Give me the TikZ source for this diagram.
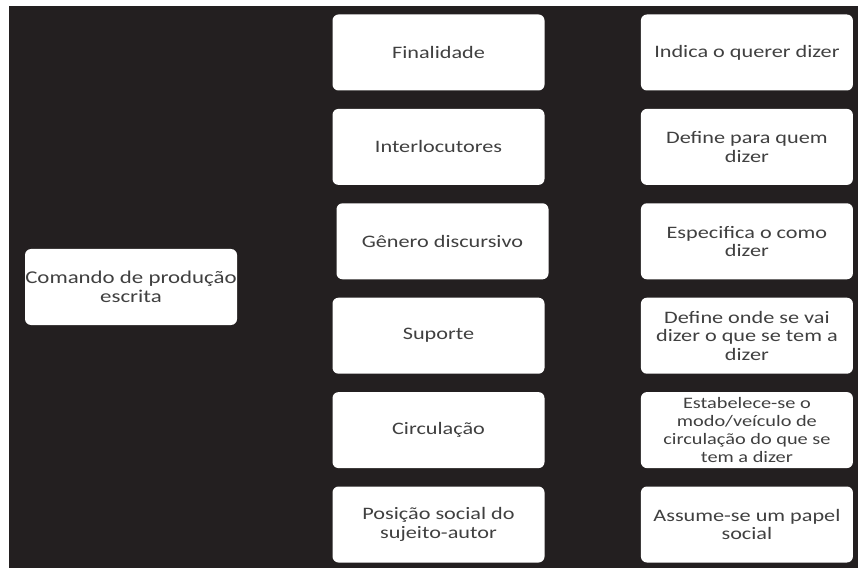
\documentclass[tikz,border=0pt]{standalone}
\usepackage{fontspec}
\setmainfont[FakeStretch=1.27]{Carlito}
\usepackage{tikz}
\usetikzlibrary{positioning}

\definecolor{bgblack}{HTML}{231F20}
\definecolor{txtgray}{HTML}{404040}

\begin{document}
\begin{tikzpicture}[x=1pt, y=1pt,
		box/.style={draw=none, fill=white, rounded corners=6pt, align=center,
			text=txtgray, inner xsep=0pt, minimum width=212pt, minimum height=76pt,
			font=\fontsize{17.5}{18.3}\selectfont},
		node distance=18pt and 96pt]
				% Background
				\fill[white] (0,0) rectangle (858,568);
				\fill[bgblack] (9,0) rectangle (858,562);

				% Middle column
				\node[box] (fin) at (438.5,515.5) {Finalidade};
				\node[box, below=of fin] (int) {Interlocutores};
				\node[box, below=of int, xshift=4pt] (gen) {Gênero discursivo};
				\node[box, below=of gen, xshift=-4pt] (sup) {Suporte};
				\node[box, below=of sup] (cir) {Circulação};
				\node[box, below=of cir] (pos) {Posição social do\\sujeito-autor};

				% Right column
				\node[box, right=of fin] (fin-d) {Indica o querer dizer};
				\node[box, right=of int] (int-d) {Define para quem\\dizer};
				\node[box, below=of int-d] (gen-d) {Especifica o como\\dizer};
				\node[box, right=of sup] (sup-d) {Define onde se vai\\dizer o que se tem a\\dizer};
				\node[box, right=of cir, font=\fontsize{16}{18}\selectfont] (cir-d) {Estabelece-se o\\modo/veículo de\\circulação do que se\\tem a dizer};
				\node[box, right=of pos] (pos-d) {Assume-se um papel\\social};

				% Left box
				\node[box, font=\fontsize{18}{18.5}\selectfont] (cmd) at (131,281) {Comando de produção\\escrita};

			\end{tikzpicture}
\end{document}
